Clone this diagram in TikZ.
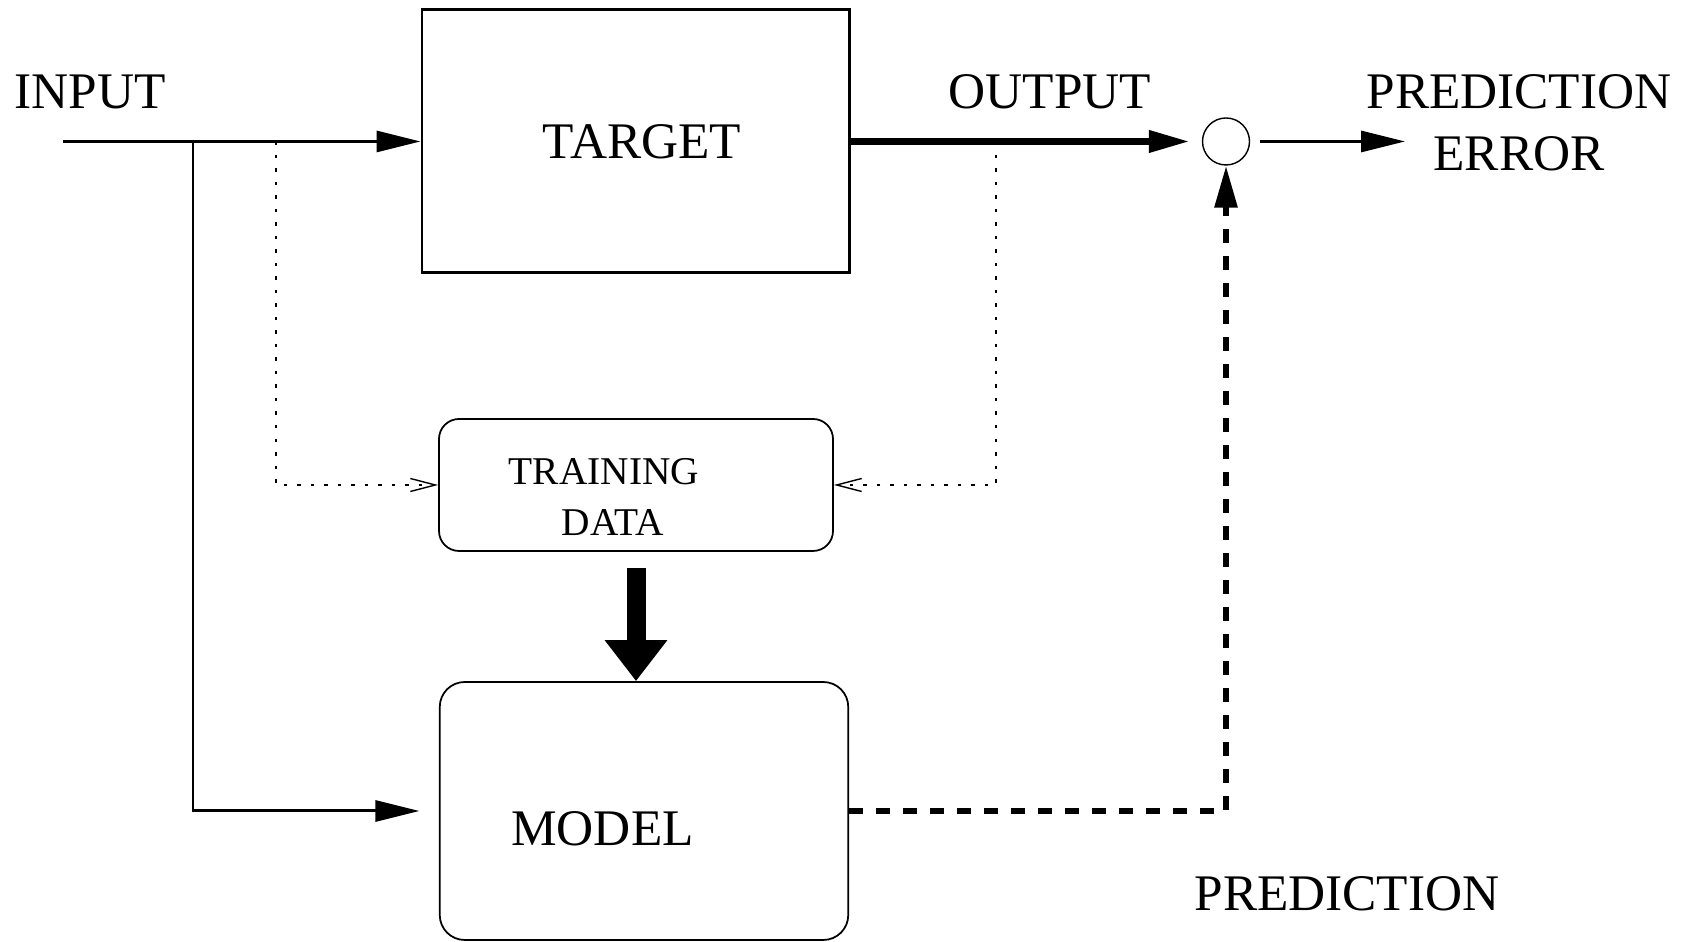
\documentclass[tikz,border=0pt]{standalone}
\usepackage{fontspec}
\setmainfont{Liberation Serif}
\usetikzlibrary{arrows.meta}

\begin{document}
\begin{tikzpicture}[
        every node/.style={font=\fontsize{14.6}{17.6}\selectfont},
        targetbox/.style={rectangle, draw, line width=0.85pt, minimum width=4.27cm, minimum height=2.63cm, inner sep=0pt},
        roundbox/.style={rectangle, draw, rounded corners=0.2cm, line width=0.5pt, inner sep=0pt},
        junction/.style={circle, draw, line width=0.4pt, minimum size=0.47cm, inner sep=0pt},
        textnode/.style={align=center, inner sep=0pt},
        signal/.style={-{Triangle[length=0.44cm, width=0.21cm]}, line width=0.85pt},
        outflow/.style={-{Triangle[length=0.41cm, width=0.21cm]}, line width=2pt},
        sample/.style={-{Straight Barb[length=0.25cm, width=0.13cm]}, line width=0.4pt, dash pattern=on 0.035cm off 0.1cm},
        learn/.style={-{Triangle[length=0.41cm, width=0.6cm]}, line width=0.19cm},
        predict/.style={-{Triangle[length=0.42cm, width=0.22cm]}, line width=1.7pt, dash pattern=on 0.14cm off 0.13cm}
    ]
    \useasboundingbox (0,0) rectangle (16.89,9.42);

    % Define blocks
    \node[targetbox, label={[name=targettext, xshift=0.065cm]center:TARGET}] (target) at (6.355,8.005) {};
    \node[roundbox, minimum width=3.94cm, minimum height=1.32cm,
          label={[name=trainingtext, textnode, font=\fontsize{11.2}{14.3}\selectfont, xshift=-0.32cm, yshift=-0.12cm]center:TRAINING\\\hspace*{0.17cm}DATA}] (training) at (6.36,4.57) {};
    \node[roundbox, rounded corners=0.25cm, minimum width=4.085cm, minimum height=2.58cm,
          label={[name=modeltext, xshift=-0.415cm, yshift=-0.18cm]center:MODEL}] (model) at (6.44,1.31) {};
    \node[junction] (junction) at (12.26,8.005) {};

    % Define labels
    \node[textnode] (input) at (0.90,8.505) {INPUT};
    \node[textnode] (output) at (10.50,8.505) {OUTPUT};
    \node[textnode] (error) at (15.19,8.195) {PREDICTION\\ERROR};
    \node[textnode] (prediction) at (13.47,0.48) {PREDICTION};

    % Branch points on the signal lines
    \coordinate (in) at (0.63,8.005);
    \coordinate (split) at (1.93,8.005);
    \coordinate (tap) at (2.76,8.005);
    \coordinate (outtap) at (9.96,8.005);
    \coordinate (errout) at (14.05,8.005);

    % Draw signal flow
    \draw[signal] (in) -- (target.west);
    \draw[signal, shorten >=0.195cm] (split) |- (model.west);
    \draw[outflow, shorten >=0.12cm] (target.east) -- (junction.west);
    \draw[signal, shorten <=0.095cm] (junction.east) -- (errout);

    % Samples collected for training
    \draw[sample] (tap) |- (training.west);
    \draw[sample] (outtap) |- (training.east);

    % Training and prediction
    \draw[learn, shorten <=0.16cm] (training.south) -- (training.south |- model.north);
    \draw[predict] (model.east) -| (junction.south);

    \end{tikzpicture}
\end{document}
